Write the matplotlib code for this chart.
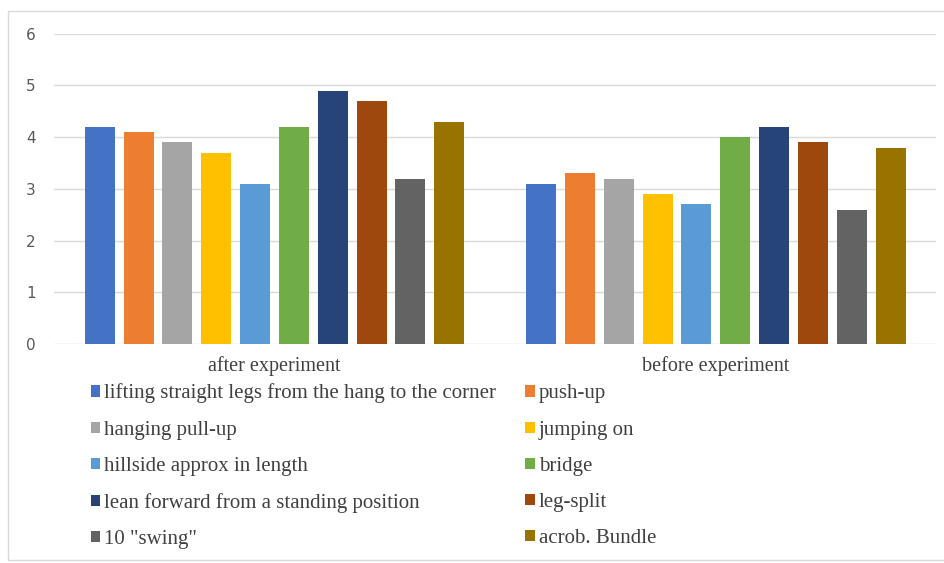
import numpy as np
import matplotlib.pyplot as plt
from matplotlib.patches import Rectangle

groups = ['after experiment', 'before experiment']
exercises = ['lifting straight legs from the hang to the corner', 'push-up',
             'hanging pull-up', 'jumping on',
             'hillside approx in length', 'bridge',
             'lean forward from a standing position', 'leg-split',
             '10 "swing"', 'acrob. Bundle']
after = [4.2, 4.1, 3.9, 3.7, 3.1, 4.2, 4.9, 4.7, 3.2, 4.3]
before = [3.1, 3.3, 3.2, 2.9, 2.7, 4.0, 4.2, 3.9, 2.6, 3.8]
colors = ['#4472C4', '#ED7D31', '#A5A5A5', '#FFC000', '#5B9BD5',
          '#70AD47', '#264478', '#9E480E', '#636363', '#997300']

fig = plt.figure(figsize=(9.45, 5.63), dpi=100)
ax = fig.add_axes([0.057, 0.389, 0.934, 0.551])

x = np.arange(len(groups))
pitch = 0.088
width = 0.068
handles = []
for i, name in enumerate(exercises):
    vals = [after[i], before[i]]
    b = ax.bar(x + (i - 4.5) * pitch, vals, width, color=colors[i], label=name,
               zorder=3)
    handles.append(b)

ax.set_xlim(-0.5, 1.5)
ax.set_ylim(0, 6)
ax.set_yticks(range(0, 7))
ax.yaxis.grid(True, color='#d9d9d9', linewidth=1, zorder=0)
for s in ax.spines.values():
    s.set_visible(False)
ax.tick_params(axis='both', length=0)
ax.tick_params(axis='y', colors='#595959', labelsize=11, pad=13)
ax.set_xticks(x)
ax.set_xticklabels(groups, fontfamily='Liberation Serif', fontsize=14.5, color='#404040')
ax.tick_params(axis='x', pad=9)

# legend filled row by row like the original
order = [0, 2, 4, 6, 8, 1, 3, 5, 7, 9]
leg = fig.legend([handles[k] for k in order], [exercises[k] for k in order],
                 ncol=2, loc='upper left', bbox_to_anchor=(0.076, 0.352),
                 frameon=False, handlelength=0.45, handleheight=0.45,
                 handletextpad=0.2, labelspacing=0.82, columnspacing=1.4,
                 prop={'family': 'Liberation Serif', 'size': 15})
for t in leg.get_texts():
    t.set_color('#404040')

fig.patches.append(Rectangle((0.008, 0.005), 1.2, 0.975, transform=fig.transFigure,
                             fill=False, edgecolor='#d9d9d9', linewidth=1))

fig.savefig('out.png', dpi=100)
